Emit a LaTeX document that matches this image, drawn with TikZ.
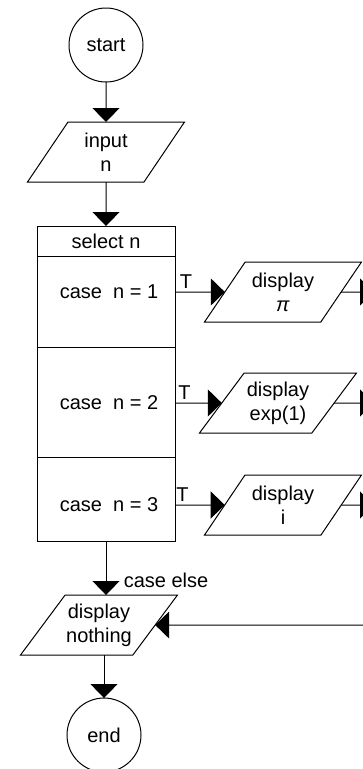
\documentclass[tikz,border=0pt]{standalone}
\usepackage{fontspec}
\setmainfont{Liberation Sans}
\usepackage{tikz}
\usetikzlibrary{positioning}
\usetikzlibrary{shapes.geometric}
\usetikzlibrary{arrows.meta}
\tikzset{%
  flowarrow/.style = {-{Triangle[width=27pt,length=14pt]},line width=1pt},
  term/.style = {circle,draw,line width=1pt,minimum size=74pt,
        inner sep=0pt,outer sep=0pt},
  io/.style = {trapezium,trapezium left angle=45,trapezium right angle=135,
        trapezium stretches body,draw,line width=1pt,minimum width=157pt,
        minimum height=60pt,inner sep=1pt,outer sep=0pt,align=center},
  cell/.style = {rectangle,draw,line width=1pt,minimum width=138pt,
        outer sep=0pt}
}

\begin{document}
\begin{tikzpicture}[x=1pt,y=-1pt,
    font=\fontsize{20}{24}\selectfont
    ]
\clip (0,0) rectangle (363,769);
\node[term] (start) at (106,45) {start};
\node[io, below=40pt of start] (input) {input\\n};
\node[cell, minimum height=30pt, below=44pt of input] (sel) {select n};
\node[cell, minimum height=91pt, below=0pt of sel] (row1) {};
\node[cell, minimum height=110pt, below=0pt of row1] (row2) {};
\node[cell, minimum height=84pt, below=0pt of row2] (row3) {};
\node (case1) at (109,292) {case\ \ n = 1};
\node (case2) at (109,403) {case\ \ n = 2};
\node (case3) at (109,505) {case\ \ n = 3};
% display boxes on the right
\node[io] (disp1) at (283,292) {display\\\textit{π}};
\node[io] (disp2) at (278,403) {display\\exp(1)};
\node[io] (disp3) at (283,505) {display\\i};
\coordinate (out1) at (374,292);
\coordinate (out2) at (374,403);
\coordinate (out3) at (374,505);
\coordinate (back) at (380,625);
\node[io, below=54pt of row3, xshift=-7pt] (none) {display\\nothing};
\node[term, below=43pt of none, xshift=5pt] (end) {end};

\draw[flowarrow] (start) -- (input);
\draw[flowarrow] (input) -- (sel);
\draw[flowarrow] (case1 -| row1.east) -- (disp1) node[above,pos=0.22] {T};
\draw[flowarrow] (case2 -| row2.east) -- (disp2) node[above,pos=0.2] {T};
\draw[flowarrow] (case3 -| row3.east) -- (disp3) node[above,pos=0.15] {T};
\draw[flowarrow] (disp1) -- (out1);
\draw[flowarrow] (disp2) -- (out2);
\draw[flowarrow] (disp3) -- (out3);
\draw[flowarrow] (row3.south) -- (row3.south |- none.north)
    node[pos=0.72,right=14pt] {case else};
\draw[flowarrow] (back) -- (none);
\draw[flowarrow] (end.north |- none.south) -- (end);
\end{tikzpicture}
\end{document}
